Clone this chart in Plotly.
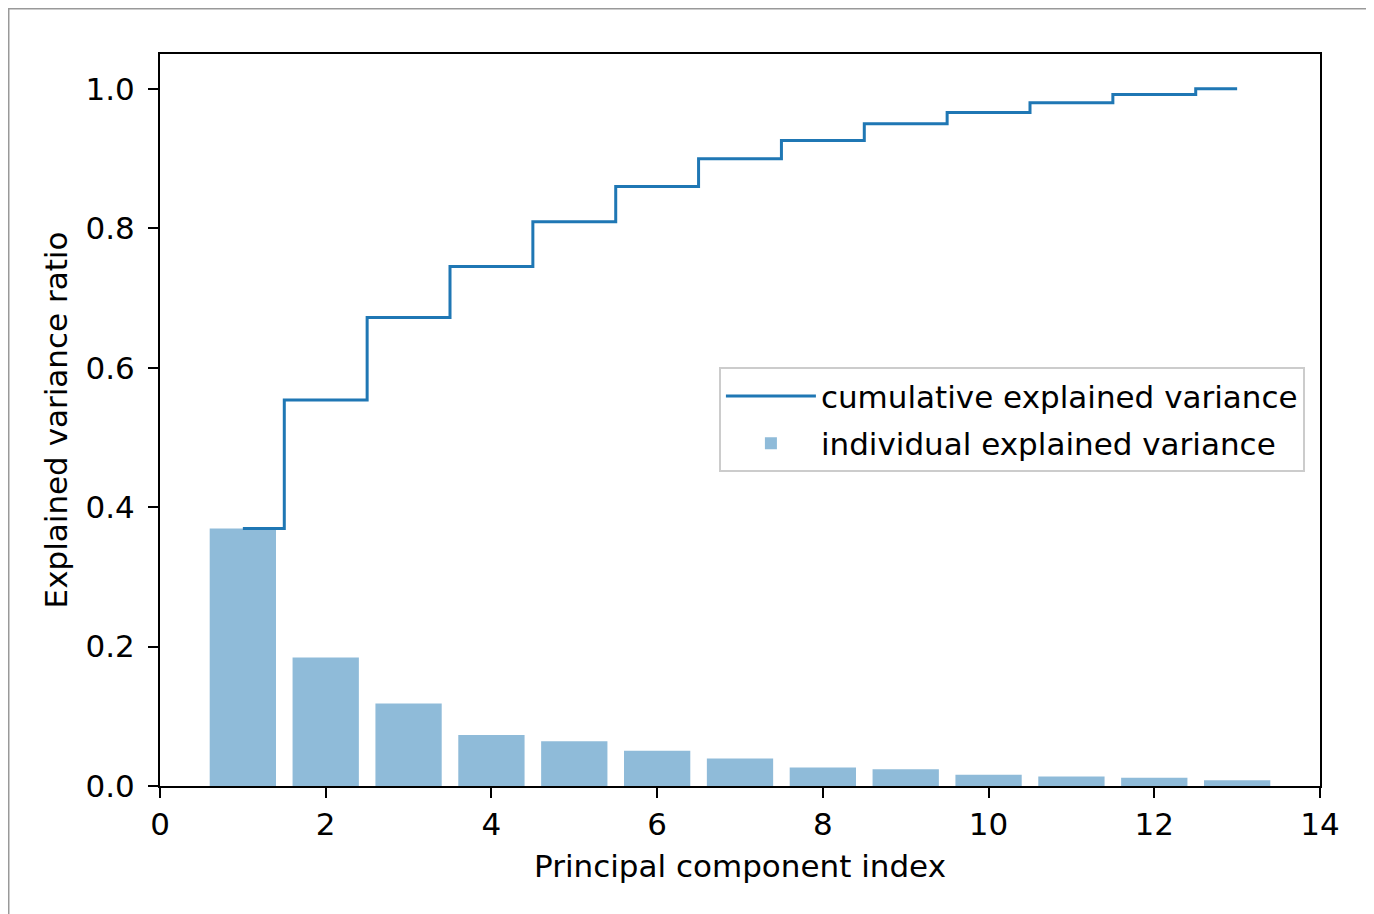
import plotly.graph_objects as go

components = list(range(1, 14))
individual_var = [0.3695, 0.1843, 0.1182, 0.0733, 0.0642, 0.0505, 0.0395,
                  0.0264, 0.0239, 0.0163, 0.0138, 0.0117, 0.0082]
cumulative_var = [0.3695, 0.5538, 0.6720, 0.7453, 0.8095, 0.8601, 0.8996,
                  0.9260, 0.9499, 0.9662, 0.9800, 0.9918, 1.0000]
x_ticks = [0, 2, 4, 6, 8, 10, 12, 14]
y_ticks = [0.0, 0.2, 0.4, 0.6, 0.8, 1.0]

FONT = "DejaVu Sans"
FS = 31
fig = go.Figure()
fig.add_trace(go.Scatter(
    x=components, y=cumulative_var, mode="lines", line_shape="hvh",
    line=dict(color="#1f77b4", width=3),
    name="cumulative explained variance", legendgroup="a"))
fig.add_trace(go.Bar(
    x=components, y=individual_var, width=0.8,
    marker=dict(color="rgba(31,119,180,0.5)", line=dict(width=0)),
    name="individual explained variance", legendgroup="b"))

axis_common = dict(showline=True, linecolor="black", linewidth=2, mirror=True,
                   ticks="outside", ticklen=10, tickwidth=2, tickcolor="black",
                   showgrid=False, zeroline=False,
                   tickfont=dict(family=FONT, size=FS, color="black"))
fig.update_xaxes(range=[0, 14], tickvals=x_ticks,
                 ticktext=[str(v) for v in x_ticks],
                 title=dict(text="Principal component index",
                            font=dict(family=FONT, size=FS, color="black"),
                            standoff=14),
                 **axis_common)
fig.update_yaxes(range=[0, 1.05], tickvals=y_ticks,
                 ticktext=[f"{v:.1f}" for v in y_ticks],
                 ticklabelstandoff=7,
                 title=dict(text="Explained variance ratio",
                            font=dict(family=FONT, size=FS, color="black"),
                            standoff=9),
                 **axis_common)

fig.update_layout(
    width=1374, height=914,
    margin=dict(l=152, r=62, t=46, b=136),
    plot_bgcolor="white", paper_bgcolor="white",
    showlegend=True,
    legend=dict(x=0.987, y=0.572, xanchor="right", yanchor="top",
                bgcolor="rgba(255,255,255,0.8)", bordercolor="#cccccc",
                borderwidth=2, traceorder="grouped", tracegroupgap=4,
                font=dict(family=FONT, size=FS, color="black"),
                itemwidth=90),
    shapes=[dict(type="rect", xref="paper", yref="paper",
                 x0=-0.1304, x1=1.044, y0=-0.2, y1=1.0618,
                 line=dict(color="#999999", width=1.5), layer="below")],
)

fig.write_html("out.html")
